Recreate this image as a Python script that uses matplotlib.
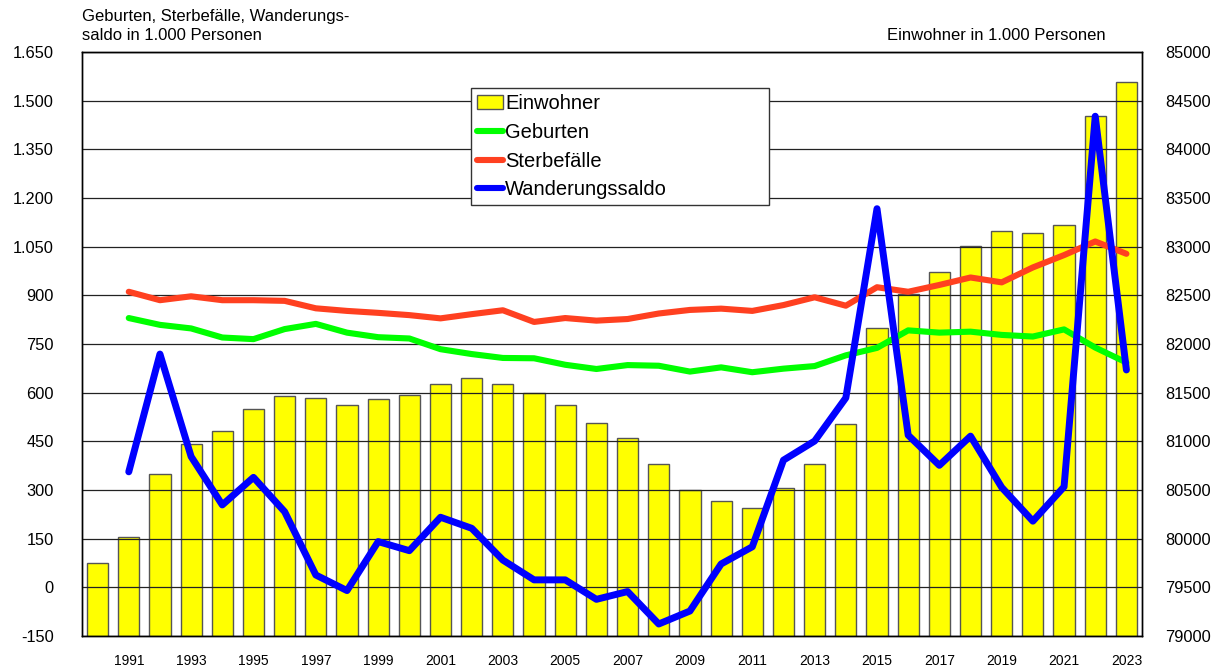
import matplotlib
matplotlib.use("Agg")
import matplotlib.pyplot as plt
import numpy as np
from matplotlib.patches import Patch
from matplotlib.lines import Line2D
from matplotlib.ticker import FuncFormatter, MultipleLocator

plt.rcParams['font.family'] = ['Liberation Sans', 'DejaVu Sans']

jahre = list(range(1990, 2024))

# Einwohner in 1.000 (rechte Achse)
einwohner = [79747, 80020, 80664, 80969, 81106, 81329, 81466, 81448, 81370, 81435,
             81473, 81592, 81647, 81586, 81493, 81373, 81192, 81034, 80764, 80500,
             80390, 80318, 80517, 80764, 81181, 82164, 82513, 82735, 83009, 83159,
             83143, 83227, 84345, 84690]

# ab 1991, in 1.000 (linke Achse)
geburten = [830, 809, 798, 770, 765, 796, 812, 785, 771, 767,
            734, 719, 707, 706, 686, 673, 685, 683, 665, 678,
            663, 674, 682, 715, 738, 792, 785, 788, 778, 773,
            795, 739, 693]
sterbefaelle = [911, 885, 897, 885, 885, 883, 860, 852, 846, 839,
                829, 842, 854, 818, 830, 822, 827, 844, 855, 859,
                852, 870, 894, 868, 925, 911, 932, 955, 940, 986,
                1024, 1066, 1028]
wanderungssaldo = [356, 719, 403, 254, 339, 233, 38, -10, 141, 113,
                   216, 182, 84, 23, 23, -37, -13, -113, -73, 72,
                   125, 392, 451, 584, 1167, 469, 376, 466, 308, 204,
                   310, 1452, 670]

x_bar = np.arange(len(jahre))
x_lin = x_bar[1:]

fig = plt.figure(figsize=(12.2, 6.66), dpi=100)
ax = fig.add_axes([82/1220, 1-636/666, 1060/1220, 584/666])
ax2 = ax.twinx()
ax.set_zorder(ax2.get_zorder() + 1)
ax.patch.set_visible(False)

ax2.bar(x_bar, einwohner, width=0.68, color='#ffff00', edgecolor='#555555',
        linewidth=1.0, zorder=1)
ax2.set_ylim(79000, 85000)
ax2.yaxis.set_major_locator(MultipleLocator(500))

ax.set_ylim(-150, 1650)
ax.set_xlim(-0.5, len(jahre) - 0.5)
ax.yaxis.set_major_locator(MultipleLocator(150))
ax.yaxis.set_major_formatter(FuncFormatter(lambda v, p: f"{v:,.0f}".replace(",", ".")))
ax.grid(axis='y', color='#222222', linewidth=0.9, zorder=0)
ax.set_axisbelow(True)

kw = dict(solid_capstyle='round', solid_joinstyle='round', zorder=3)
ax.plot(x_lin, geburten, color='#00ff00', linewidth=4.4, **kw)
ax.plot(x_lin, sterbefaelle, color='#ff4020', linewidth=4.4, **kw)
ax.plot(x_lin, wanderungssaldo, color='#0000ff', linewidth=5.0, **kw)

ax.set_xticks(x_bar[1::2])
ax.set_xticklabels([str(j) for j in jahre[1::2]])
ax.tick_params(axis='x', length=0, pad=13, labelsize=10)
ax.tick_params(axis='y', length=0, pad=20.5, labelsize=11.8)
ax2.tick_params(axis='y', length=0, pad=16.5, labelsize=11.8)
for a in (ax, ax2):
    for s in a.spines.values():
        s.set_color('black')
        s.set_linewidth(1.0)

fig.text(82/1220, 1-9/666, "Geburten, Sterbefälle, Wanderungs-\nsaldo in 1.000 Personen",
         ha='left', va='top', fontsize=12, linespacing=1.3)
fig.text(1106/1220, 1-36/666, "Einwohner in 1.000 Personen",
         ha='right', va='center', fontsize=12)

handles = [Patch(facecolor='#ffff00', edgecolor='#555555', linewidth=1.0),
           Line2D([], [], color='#00ff00', linewidth=4.4, solid_capstyle='round'),
           Line2D([], [], color='#ff4020', linewidth=4.4, solid_capstyle='round'),
           Line2D([], [], color='#0000ff', linewidth=4.4, solid_capstyle='round')]
labels = ["Einwohner", "Geburten", "Sterbefälle", "Wanderungssaldo"]
leg = ax.legend(handles, labels, loc='upper left', mode='expand',
                bbox_to_anchor=(0.367, 0.738, 0.2815, 0.2),
                fontsize=14.5, handlelength=1.3, handletextpad=0.1,
                labelspacing=0.48, borderpad=0.3, borderaxespad=0,
                fancybox=False, framealpha=1, edgecolor='#333333')
leg.get_frame().set_linewidth(1.0)

fig.savefig("out.png", dpi=100)
